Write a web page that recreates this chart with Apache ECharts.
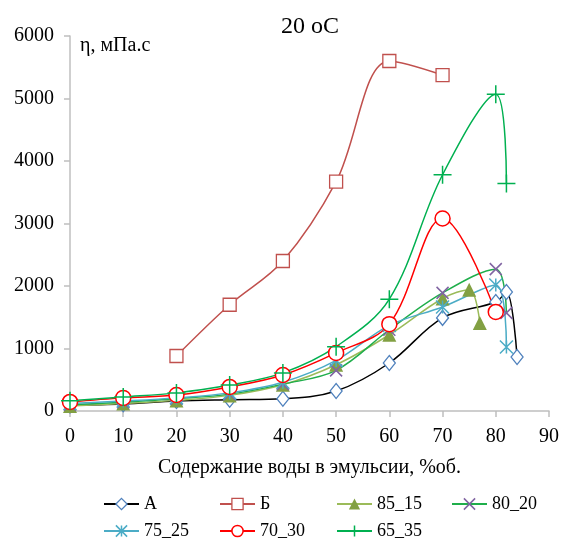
<!DOCTYPE html>
<html>
<head>
<meta charset="utf-8">
<script src="https://cdn.jsdelivr.net/npm/echarts@6/dist/echarts.min.js"></script>
<style>
  html, body { margin: 0; padding: 0; background: #fff; }
  #chart { width: 564px; height: 541px; }
</style>
</head>
<body>
<div id="chart"></div>
<script>
// вязкость эмульсий при 20 oC, пары [вода %, мПа.с]
const seriesNames = ['А', 'Б', '85_15', '80_20', '75_25', '70_30', '65_35']
const dataA = [[0, 90], [10, 110], [20, 160], [30, 180], [40, 195], [50, 320], [60, 768], [70, 1490], [80, 1745], [82, 1905], [84, 865]]
const dataB = [[20, 880], [30, 1700], [40, 2400], [50, 3670], [60, 5600], [70, 5375]]
const data85 = [[0, 80], [10, 120], [20, 170], [30, 250], [40, 420], [50, 740], [60, 1220], [70, 1800], [75, 1940], [77, 1410]]
const data80 = [[0, 100], [10, 140], [20, 195], [30, 270], [40, 430], [50, 650], [60, 1300], [70, 1890], [80, 2270], [82, 1570]]
const data75 = [[0, 120], [10, 160], [20, 210], [30, 290], [40, 460], [50, 810], [60, 1370], [70, 1665], [80, 2015], [82, 1025]]
const data70 = [[0, 145], [10, 210], [20, 256], [30, 385], [40, 576], [50, 930], [60, 1390], [70, 3080], [80, 1585]]
const data65 = [[0, 165], [10, 225], [20, 290], [30, 415], [40, 610], [50, 1030], [60, 1790], [70, 3780], [80, 5070], [82, 3640]]
const xTicks = { min: 0, max: 90, step: 10 }
const yTicks = { min: 0, max: 6000, step: 1000 }

const chart = echarts.init(document.getElementById('chart'))
const serif = 'Liberation Serif'
const crossPath = 'path://M0,0 L10,10 M10,0 L0,10'
const plusPath = 'path://M5,0 L5,10 M0,5 L10,5'
const starPath = 'path://M0,0 L10,10 M10,0 L0,10 M5,0 L5,10'

function makeSeries(name, data, lineColor, symbol, size, itemStyle) {
  return {
    name: name,
    type: 'line',
    data: data,
    smooth: 0.35,
    symbol: symbol,
    symbolSize: size,
    showAllSymbol: true,
    lineStyle: { color: lineColor, width: 1.5 },
    itemStyle: itemStyle,
    emphasis: { disabled: true }
  }
}

const series = [
  makeSeries(seriesNames[0], dataA, '#000000', 'diamond', [12, 15],
    { color: '#fff', borderColor: '#4f81bd', borderWidth: 1.3 }),
  makeSeries(seriesNames[1], dataB, '#c0504d', 'rect', 13,
    { color: '#fff', borderColor: '#c0504d', borderWidth: 1.3 }),
  makeSeries(seriesNames[2], data85, '#9bbb59', 'triangle', 14,
    { color: '#82a043', borderColor: '#82a043', borderWidth: 0 }),
  makeSeries(seriesNames[3], data80, '#1fae4b', crossPath, 12,
    { color: 'transparent', borderColor: '#8064a2', borderWidth: 1.5 }),
  makeSeries(seriesNames[4], data75, '#4bacc6', starPath, 13,
    { color: 'transparent', borderColor: '#4bacc6', borderWidth: 1.5 }),
  makeSeries(seriesNames[5], data70, '#ff0000', 'circle', 15,
    { color: '#fff', borderColor: '#ff0000', borderWidth: 1.5 }),
  makeSeries(seriesNames[6], data65, '#00b050', plusPath, 18,
    { color: 'transparent', borderColor: '#00b050', borderWidth: 1.5 })
]

// одна легенда на каждый ряд, раскладка 4 колонки x 2 строки
const legendSpots = [[103, 495], [219, 495], [336, 495], [451, 495], [103, 522], [219, 522], [336, 522]]
const legends = seriesNames.map((name, i) => ({
  left: legendSpots[i][0],
  top: legendSpots[i][1],
  data: [{ name: name, itemStyle: series[i].itemStyle }],
  padding: 0,
  itemWidth: 35,
  itemHeight: 14,
  itemGap: 5,
  selectedMode: false,
  textStyle: { fontFamily: serif, fontSize: 18, color: '#000' }
}))

const option = {
  animation: false,
  title: {
    text: '20 oC',
    left: 305,
    top: 10,
    textAlign: 'center',
    textStyle: { fontFamily: serif, fontSize: 24, fontWeight: 'normal', color: '#000' }
  },
  grid: { left: 70, right: 15, top: 36, bottom: 130, containLabel: false },
  legend: legends,
  xAxis: {
    type: 'value',
    min: xTicks.min,
    max: xTicks.max,
    interval: xTicks.step,
    name: 'Содержание воды в эмульсии, %об.',
    nameLocation: 'middle',
    nameGap: 47,
    nameTextStyle: { fontFamily: serif, fontSize: 20, color: '#000' },
    axisLine: { lineStyle: { color: '#bfbfbf', width: 1.5 } },
    axisTick: { length: 6, lineStyle: { color: '#bfbfbf', width: 1.5 } },
    axisLabel: { fontFamily: serif, fontSize: 20, color: '#000', margin: 16 },
    splitLine: { show: false }
  },
  yAxis: {
    type: 'value',
    min: yTicks.min,
    max: yTicks.max,
    interval: yTicks.step,
    name: 'η, мПа.с',
    nameLocation: 'end',
    nameGap: -10,
    nameTextStyle: { fontFamily: serif, fontSize: 20, color: '#000', align: 'left', verticalAlign: 'middle', padding: [0, 0, 0, 10] },
    axisLine: { show: true, lineStyle: { color: '#bfbfbf', width: 1.5 } },
    axisTick: { show: true, length: 6, lineStyle: { color: '#bfbfbf', width: 1.5 } },
    axisLabel: { fontFamily: serif, fontSize: 20, color: '#000', margin: 16, formatter: (v) => String(v) },
    splitLine: { show: false }
  },
  series: series
}

chart.setOption(option)
</script>
</body>
</html>
